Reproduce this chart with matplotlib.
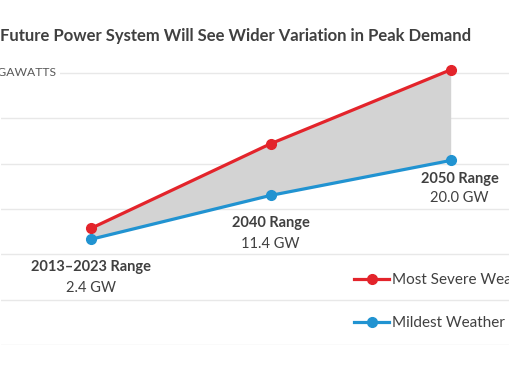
import matplotlib.pyplot as plt
import numpy as np

# data (megawatts)
periods = ['2013–2023', '2040', '2050']
severe = [25700, 44400, 60700]
mildest = [23300, 33000, 40700]
range_names = ['2013–2023 Range', '2040 Range', '2050 Range']
range_gw = ['2.4 GW', '11.4 GW', '20.0 GW']

red = '#e3242b'
blue = '#2193d1'
grey_txt = '#404040'

plt.rcParams['font.family'] = ['Lato', 'DejaVu Sans']

fig = plt.figure(figsize=(5.1, 3.82), dpi=100)
# plot area runs past the left/right edges (picture is cropped)
ax = fig.add_axes([0.0014, 0.0969, 1.0588, 0.7714])

x = np.arange(len(periods))
ax.fill_between(x, mildest, severe, color='#d3d3d3', lw=0, zorder=1)
ax.plot(x, severe, color=red, lw=2.3, marker='o', ms=7, label='Most Severe Weather', zorder=3)
ax.plot(x, mildest, color=blue, lw=2.3, marker='o', ms=7, label='Mildest Weather', zorder=3)

ax.set_xlim(-0.5, 2.5)
ax.set_ylim(0, 65000)
ax.set_yticks(np.arange(0, 60001, 10000))
ax.yaxis.grid(True, color='#e8e8e8', lw=1)
ax.set_axisbelow(True)
ax.tick_params(left=False, bottom=False, labelleft=False, labelbottom=False)
for s in ax.spines.values():
    s.set_visible(False)

# range labels under the blue points
dx = [0.0, 0.0, 0.05]
off_name = [-20, -20, -13]
off_gw = [-35, -35, -27]
for i in range(len(periods)):
    ax.annotate(range_names[i], (x[i] + dx[i], mildest[i]), xytext=(0, off_name[i]),
                textcoords='offset points', ha='center', va='center',
                fontsize=10.5, fontweight='bold', color=grey_txt)
    ax.annotate(range_gw[i], (x[i] + dx[i], mildest[i]), xytext=(0, off_gw[i]),
                textcoords='offset points', ha='center', va='center',
                fontsize=10.5, color=grey_txt)

ax.text(-0.615, 60000, 'MEGAWATTS', ha='left', va='center', fontsize=8.7,
        color='#595959', bbox=dict(facecolor='white', edgecolor='none', pad=2))

fig.text(0.0, 0.906, 'Future Power System Will See Wider Variation in Peak Demand',
         ha='left', va='center', fontsize=12, fontweight='bold', color=grey_txt)

fig.legend(loc='upper left', bbox_to_anchor=(354 / 510, 0.2855), frameon=False,
           fontsize=11, handlelength=2.3, handletextpad=0.2, labelspacing=1.9,
           borderpad=0, borderaxespad=0, labelcolor=grey_txt)

fig.savefig('out.png', dpi=100)
